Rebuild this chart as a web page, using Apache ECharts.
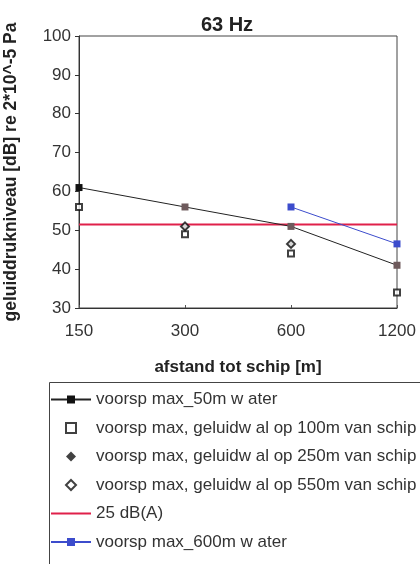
<!DOCTYPE html>
<html>
<head>
<meta charset="utf-8">
<script src="https://cdn.jsdelivr.net/npm/echarts@6/dist/echarts.min.js"></script>
<style>
  html, body { margin: 0; padding: 0; background: #fff; }
  #chart { width: 420px; height: 564px; }
</style>
</head>
<body>
<div id="chart"></div>
<script>
// Distance to ship (m)
const distances = ['150', '300', '600', '1200'];
const yTicks = [30, 40, 50, 60, 70, 80, 90, 100];

// Predicted levels (dB)
const water50 = [61, 56, 51, 41];
const wall100 = [56, 49, 44, 34];
const wall250 = [null, 51, 46.5, null];
const wall550 = [null, 51, 46.5, null];
const limit25 = [51.5, 51.5, 51.5, 51.5];
const water600 = [null, null, 56, 46.5];

const names = [
  'voorsp max_50m w ater',
  'voorsp max, geluidw al op 100m van schip',
  'voorsp max, geluidw al op 250m van schip',
  'voorsp max, geluidw al op 550m van schip',
  '25 dB(A)',
  'voorsp max_600m w ater'
];

// Legend icons that keep their aspect ratio
const SQUARE = 'path://M0,0H10V10H0Z';
const DIAMOND = 'path://M5,0L10,5L5,10L0,5Z';
const BAR = 'path://M0,0H40V2H0Z';

const FONT = '"Liberation Sans", Arial, sans-serif';
const chart = echarts.init(document.getElementById('chart'));

chart.setOption({
  animation: false,
  textStyle: { fontFamily: FONT },
  title: {
    text: '63 Hz', left: 222, top: 10, textAlign: 'center',
    textStyle: { fontSize: 20, fontWeight: 'bold', color: '#222', fontFamily: FONT }
  },
  grid: {
    left: 79, right: 23, top: 36, bottom: 256, outerBoundsMode: 'none',
    show: true, borderColor: '#444', borderWidth: 1
  },
  xAxis: {
    type: 'category', data: distances, boundaryGap: false,
    name: 'afstand tot schip [m]', nameLocation: 'middle', nameGap: 51,
    nameTextStyle: { fontSize: 17, fontWeight: 'bold', color: '#222' },
    axisLine: { lineStyle: { color: '#333' } },
    axisTick: { inside: true, length: 3, lineStyle: { color: '#555' } },
    axisLabel: { fontSize: 17, color: '#333', margin: 15 }
  },
  yAxis: {
    type: 'value', min: yTicks[0], max: yTicks[yTicks.length - 1], interval: 10,
    name: 'geluiddrukniveau [dB] re 2*10^-5 Pa', nameLocation: 'middle', nameGap: 59,
    nameTextStyle: { fontSize: 17.5, fontWeight: 'bold', color: '#222' },
    axisLine: { show: true, lineStyle: { color: '#333' } },
    axisTick: { show: true, length: 4, lineStyle: { color: '#333' } },
    axisLabel: { fontSize: 17, color: '#333', margin: 8 },
    splitLine: { show: false }
  },
  legend: {
    orient: 'vertical', left: 45, top: 386, itemGap: 11.5, height: 200,
    itemWidth: 40, itemHeight: 10,
    data: [
      { name: names[0] },
      { name: names[1], icon: SQUARE },
      { name: names[2], icon: DIAMOND },
      { name: names[3], icon: DIAMOND },
      { name: names[4], icon: BAR },
      { name: names[5] }
    ],
    textStyle: { fontSize: 17, color: '#333', fontFamily: FONT }
  },
  graphic: [{
    type: 'rect', left: 47, top: 380,
    shape: { width: 400, height: 200 },
    style: { fill: 'none', stroke: '#444', lineWidth: 1 }
  }],
  series: [
    {
      name: names[4], type: 'line', data: limit25, symbol: 'none', z: 2,
      lineStyle: { color: '#e0204a', width: 2 }, itemStyle: { color: '#e0204a' }
    },
    {
      name: names[0], type: 'line', data: water50.map((v, i) => i === 0 ? v :
        { value: v, itemStyle: { color: '#6e5a5c' } }),
      symbol: 'rect', symbolSize: 7, z: 3,
      lineStyle: { color: '#222', width: 1 }, itemStyle: { color: '#111' }
    },
    {
      name: names[1], type: 'scatter', data: wall100, symbol: 'rect', symbolSize: 6, z: 4,
      itemStyle: { color: '#fff', borderColor: '#111', borderWidth: 2 }
    },
    {
      name: names[2], type: 'scatter', data: wall250, symbol: 'diamond', symbolSize: 8, z: 4,
      itemStyle: { color: '#111' }
    },
    {
      name: names[3], type: 'scatter', data: wall550, symbol: 'diamond', symbolSize: 8, z: 5,
      itemStyle: { color: '#fff', borderColor: '#111', borderWidth: 2 }
    },
    {
      name: names[5], type: 'line', data: water600, symbol: 'rect', symbolSize: 7, z: 6,
      lineStyle: { color: '#3c4ccc', width: 1 }, itemStyle: { color: '#3c4ccc' }
    }
  ]
});
</script>
</body>
</html>
